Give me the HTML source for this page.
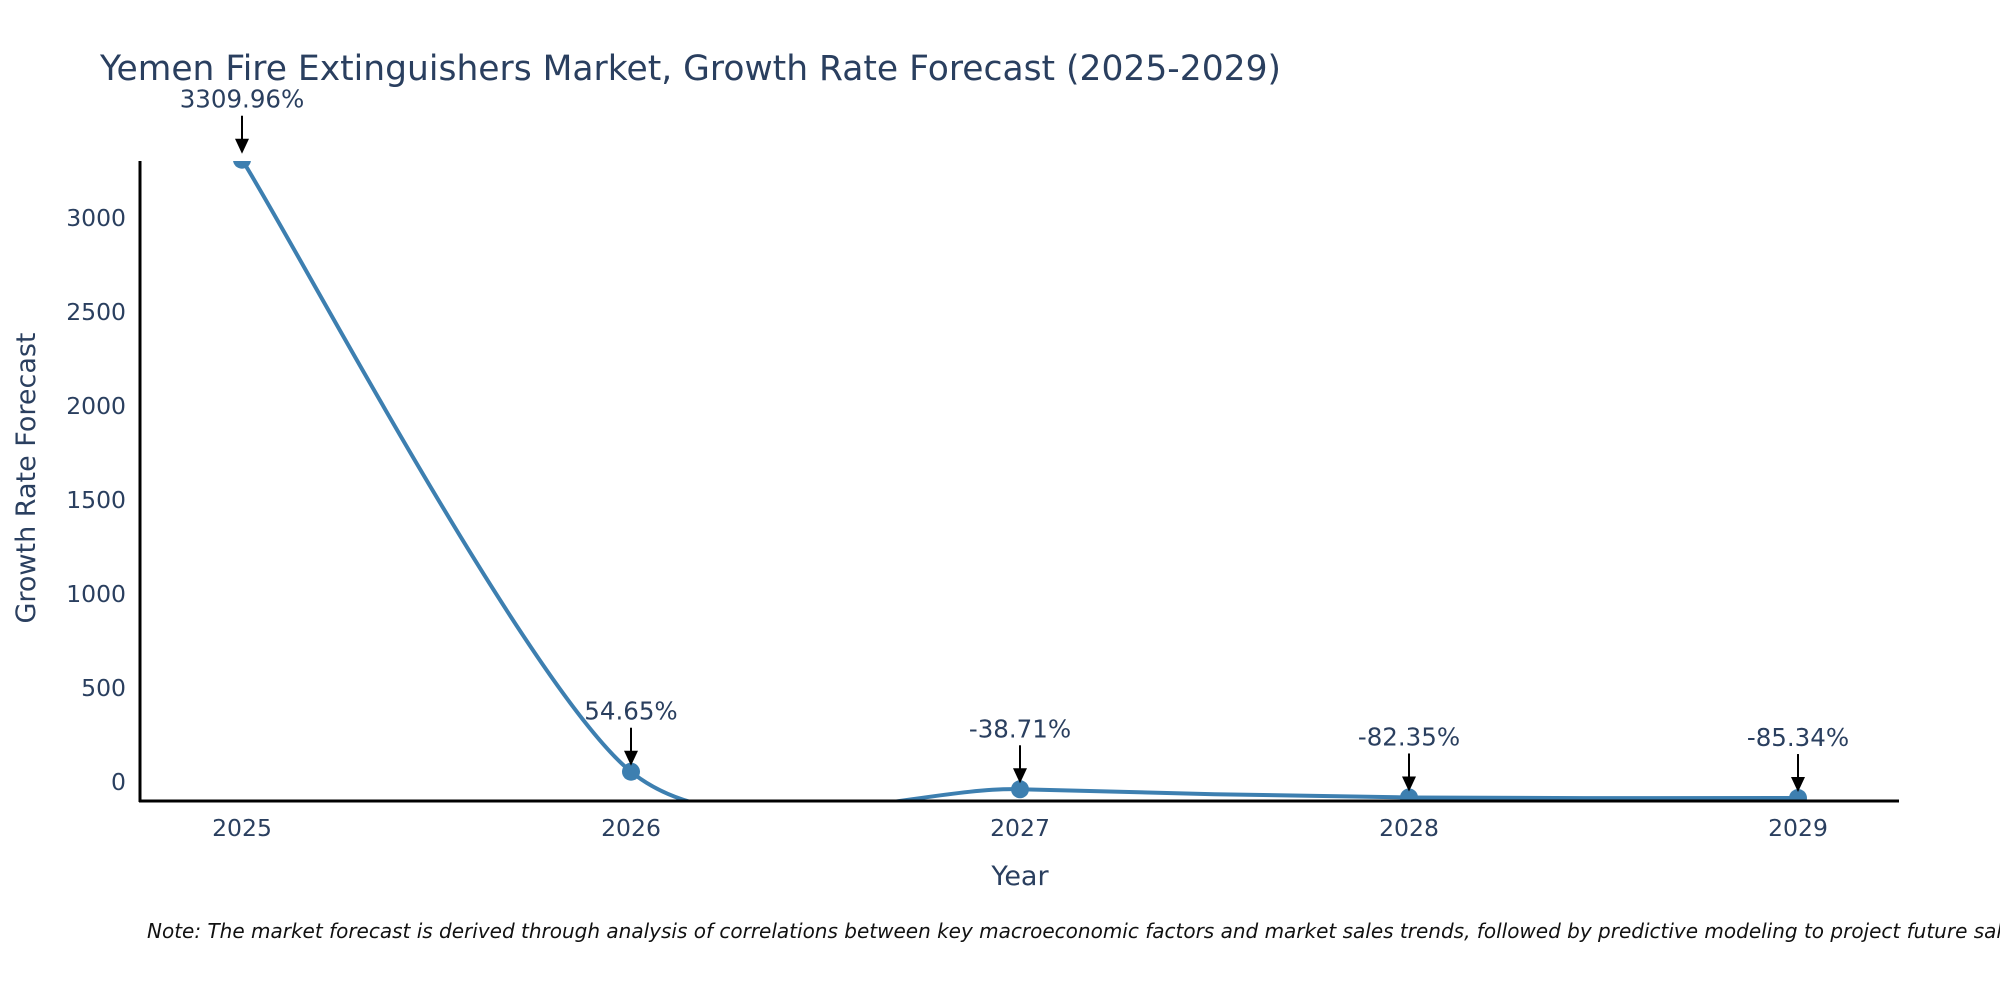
<!DOCTYPE html>
<html><head><meta charset="utf-8"><style>
body{margin:0;background:#fff;}
svg text{font-family:"DejaVu Sans","Liberation Sans",sans-serif;fill:#2a3f5f;}
</style></head><body>
<svg id="chart" width="2000" height="1000" xmlns="http://www.w3.org/2000/svg">
<defs><clipPath id="plotclip"><rect x="140" y="161" width="1760" height="640"/></clipPath></defs>
<text x="100" y="80" font-size="34.5">Yemen Fire Extinguishers Market, Growth Rate Forecast (2025-2029)</text>
<g id="yticks"></g><g id="xticks"></g>
<g id="series" clip-path="url(#plotclip)"></g>
<g id="markers" clip-path="url(#plotclip)"></g>
<line x1="140" y1="161" x2="140" y2="802" stroke="#000" stroke-width="3"/>
<line x1="139" y1="801" x2="1899" y2="801" stroke="#000" stroke-width="3"/>
<g id="annots"></g>
<text x="1020" y="885" font-size="27" text-anchor="middle">Year</text>
<text transform="translate(35,478) rotate(-90)" font-size="27" text-anchor="middle">Growth Rate Forecast</text>
<text x="147" y="938" font-size="20" font-style="italic" style="fill:#111">Note: The market forecast is derived through analysis of correlations between key macroeconomic factors and market sales trends, followed by predictive modeling to project future sales.</text>
</svg>
<script>
const years = ["2025","2026","2027","2028","2029"];
const growth = [3309.96, 54.65, -38.71, -82.35, -85.34];
const labels = ["3309.96%","54.65%","-38.71%","-82.35%","-85.34%"];
const yTickValues = [0,500,1000,1500,2000,2500,3000];

const NS="http://www.w3.org/2000/svg";
const xPos=i=>242+i*389;
const yPos=v=>782-v*0.188;
function mk(t,a,p){const e=document.createElementNS(NS,t);for(const k in a)e.setAttribute(k,a[k]);p.appendChild(e);return e;}
const yt=document.getElementById('yticks');
yTickValues.forEach(v=>{const t=mk('text',{x:126,y:yPos(v)+8,'font-size':23.5,'text-anchor':'end'},yt);


t.textContent=v;});
const xt=document.getElementById('xticks');
years.forEach((y,i)=>{const t=mk('text',{x:xPos(i),y:836,'font-size':23.5,'text-anchor':'middle'},xt);


t.textContent=y;});
const pts=growth.map((v,i)=>[xPos(i),yPos(v)]);
let d=`M${pts[0][0]},${pts[0][1]}`;
const s=0.13;
for(let i=0;i<pts.length-1;i++){
 const p0=pts[Math.max(0,i-1)],p1=pts[i],p2=pts[i+1],p3=pts[Math.min(pts.length-1,i+2)];
 const c1=[p1[0]+(p2[0]-p0[0])*s,p1[1]+(p2[1]-p0[1])*s];
 const c2=[p2[0]-(p3[0]-p1[0])*s,p2[1]-(p3[1]-p1[1])*s];
 d+=` C${c1[0]},${c1[1]} ${c2[0]},${c2[1]} ${p2[0]},${p2[1]}`;
}
const line=mk('path',{d:d,fill:'none',stroke:'#3d7fb0','stroke-width':4},document.getElementById('series'));


const mg=document.getElementById('markers'),ag=document.getElementById('annots');
pts.forEach((p,i)=>{
 const c=mk('circle',{cx:p[0],cy:p[1],r:9,fill:'#3d7fb0'},mg);
 
 
 const l=mk('line',{x1:p[0],y1:p[1]-44,x2:p[0],y2:p[1]-20,stroke:'#000','stroke-width':2},ag);
 
 
 const h=mk('path',{d:`M${p[0]-7},${p[1]-21} L${p[0]+7},${p[1]-21} L${p[0]},${p[1]-6} Z`,fill:'#000'},ag);
 
 
 const t=mk('text',{x:p[0],y:p[1]-52,'font-size':24.5,'text-anchor':'middle'},ag);
 
 
 t.textContent=labels[i];
});
</script>
</body></html>
